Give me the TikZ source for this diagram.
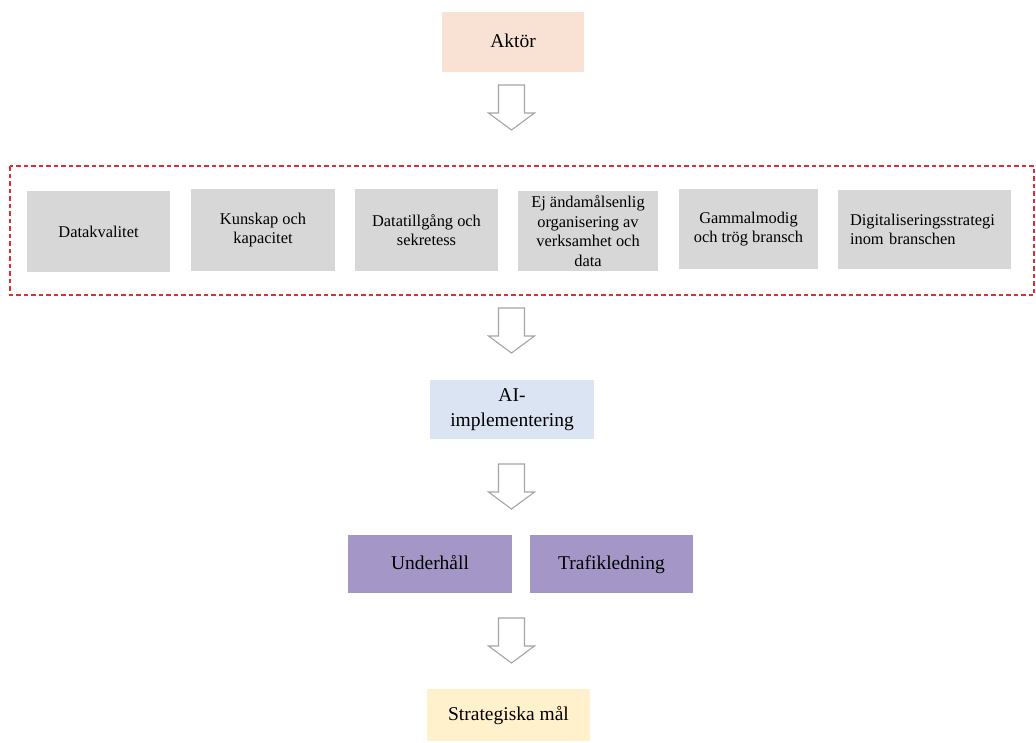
\documentclass[tikz,border=0pt]{standalone}
\usepackage{fontspec}
\setmainfont{Liberation Serif}
\begin{document}
\begin{tikzpicture}[x=1pt,y=-1pt,
  box/.style={anchor=north west,inner sep=0pt,outer sep=0pt,align=center},
  bigtext/.style={font=\fontsize{19.5}{24.5}\selectfont},
  smalltext/.style={font=\fontsize{16.4}{19.6}\selectfont},
  oneline/.style={text height=15pt,text depth=3.5pt},
  blockarrow/.style={draw=arrowgray,fill=white,line width=1.1pt,line join=miter},
  dashframe/.style={draw=framered,line width=1.4pt,dash pattern=on 4.5pt off 3pt}]
\definecolor{peach}{RGB}{249,226,212}
\definecolor{lightblue}{RGB}{219,228,242}
\definecolor{purpleb}{RGB}{164,151,199}
\definecolor{lightyellow}{RGB}{255,241,204}
\definecolor{grayb}{RGB}{215,215,215}
\definecolor{arrowgray}{RGB}{165,165,165}
\definecolor{framered}{RGB}{222,48,52}
\useasboundingbox (0,0) rectangle (1036,742);
\fill[white] (0,0) rectangle (1036,742);

% top box
\node[box,bigtext,oneline,fill=peach,minimum width=142pt,minimum height=60pt] (aktor) at (442,12) {Akt\"or};

% dashed frame
\draw[dashframe] (10,166) rectangle (1034,295);

% gray boxes
\node[box,smalltext,fill=grayb,minimum width=143pt,minimum height=81pt] (b1) at (27,191) {Datakvalitet};
\node[box,smalltext,fill=grayb,minimum width=144pt,minimum height=82pt] (b2) at (191,189) {Kunskap och\\kapacitet};
\node[box,smalltext,fill=grayb,minimum width=143pt,minimum height=82pt] (b3) at (355,189) {Datatillg\aa ng och\\sekretess};
\node[box,smalltext,fill=grayb,minimum width=140pt,minimum height=80pt] (b4) at (518,191) {Ej \"andam\aa lsenlig\\organisering av\\verksamhet och\\data};
\node[box,smalltext,fill=grayb,minimum width=139pt,minimum height=80pt] (b5) at (679,189) {Gammalmodig\\och tr\"og bransch};
\node[box,smalltext,fill=grayb,minimum width=173pt,minimum height=79pt,align=left,text width=149pt] (b6) at (838,190) {Digitaliseringsstrategi\\inom branschen};

% AI box
\node[box,bigtext,fill=lightblue,minimum width=164pt,minimum height=59pt] (ai) at (430,380) {AI-\\implementering};

% purple boxes
\node[box,bigtext,oneline,fill=purpleb,minimum width=164pt,minimum height=58pt] (uh) at (348,535) {Underh\aa ll};
\node[box,bigtext,oneline,fill=purpleb,minimum width=163pt,minimum height=58pt] (tl) at (530,535) {Trafikledning};

% bottom box
\node[box,bigtext,oneline,fill=lightyellow,minimum width=163pt,minimum height=52pt] (sm) at (427,689) {Strategiska m\aa l};

% block arrows
\foreach \yt in {85,308,464,618}{
  \draw[blockarrow] (498.5,\yt) -- (524.5,\yt) -- (524.5,\yt+28) -- (534.5,\yt+28)
    -- (511.5,\yt+45) -- (488.5,\yt+28) -- (498.5,\yt+28) -- cycle;
}
\end{tikzpicture}
\end{document}
